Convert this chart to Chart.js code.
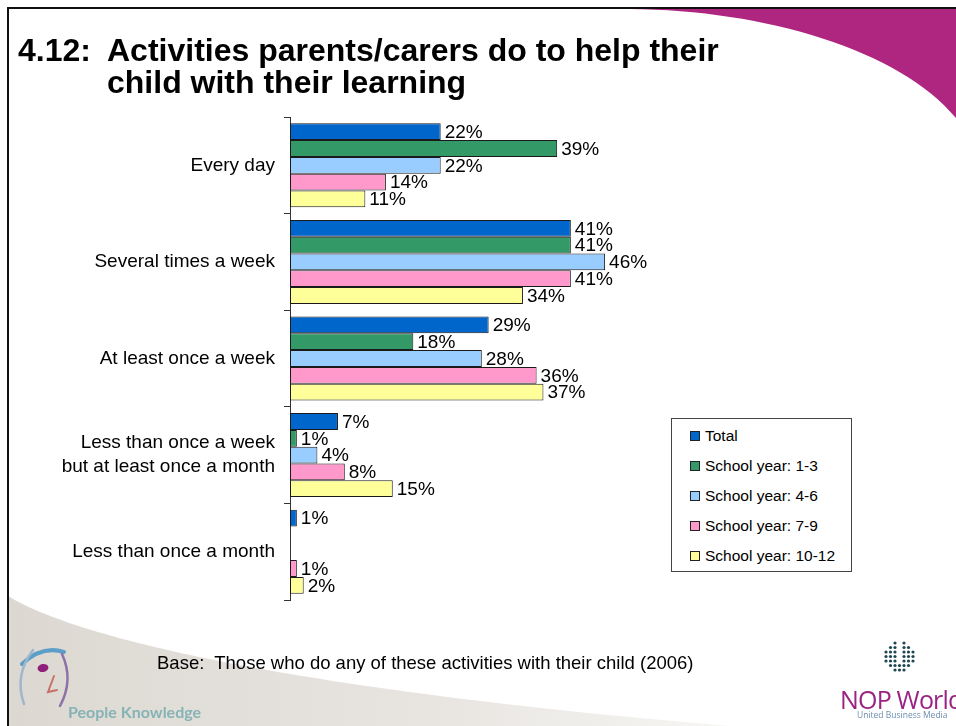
<!DOCTYPE html>
<html>
<head>
<meta charset="utf-8">
<script src="https://cdn.jsdelivr.net/npm/chart.js@4/dist/chart.umd.min.js"></script>
<style>
  html, body { margin: 0; padding: 0; background: #fff; }
  #slide { position: relative; width: 956px; height: 726px; overflow: hidden;
           font-family: "Liberation Sans", Arial, sans-serif; color: #000; }
  #chart { position: absolute; left: 0; top: 0; }
  .title { position: absolute; font-weight: bold; font-size: 32px; line-height: 32px; white-space: nowrap; }
  #footnote { position: absolute; left: 157px; top: 652px; font-size: 18.5px; line-height: 22px; white-space: nowrap; }
  #legend { position: absolute; left: 671px; top: 418px; width: 181px; height: 154px; box-sizing: border-box;
            border: 1px solid #444; background: #fff; }
  #legend .item { position: absolute; left: 18px; height: 20px; line-height: 20px; font-size: 15.5px; white-space: nowrap; }
  #legend .swatch { position: absolute; left: 0; top: 5px; width: 10px; height: 10px; box-sizing: border-box; border: 1px solid #222; }
  #legend .label { position: absolute; left: 15px; top: 0; }
  #pk { position: absolute; left: 68px; top: 702px; font-family: Lato, "Open Sans", sans-serif; font-weight: bold;
        font-size: 16px; line-height: 20px; color: #86b3b6; white-space: nowrap; }
  #nop { position: absolute; left: 840px; top: 684px; font-family: "Open Sans", Lato, sans-serif; font-size: 25px;
         line-height: 30px; color: #9a2383; white-space: nowrap; letter-spacing: -0.8px; }
  #ubm { position: absolute; left: 857px; top: 709px; font-family: "Open Sans", sans-serif; font-size: 8.5px;
         line-height: 12px; color: #6d8db0; white-space: nowrap; }
</style>
</head>
<body>
<div id="slide">
  <canvas id="chart" width="956" height="726"></canvas>
  <div class="title" style="left:18px; top:34px;">4.12:</div>
  <div class="title" style="left:107px; top:34px;">Activities parents/carers do to help their<br>child with their learning</div>
  <div id="legend"></div>
  <div id="footnote">Base:&nbsp; Those who do any of these activities with their child (2006)</div>
  <div id="pk">People Knowledge</div>
  <div id="nop">NOP World</div>
  <div id="ubm">United Business Media</div>
</div>
<script>
// Frequency categories (y axis)
const categories = [
  'Every day',
  'Several times a week',
  'At least once a week',
  ['Less than once a week', 'but at least once a month'],
  'Less than once a month'
];

// Series names
const seriesNames = ['Total', 'School year: 1-3', 'School year: 4-6', 'School year: 7-9', 'School year: 10-12'];

// Percentages per series (null = no response shown)
const total      = [22, 41, 29, 7, 1];
const year1to3   = [39, 41, 18, 1, null];
const year4to6   = [22, 46, 28, 4, null];
const year7to9   = [14, 41, 36, 8, 1];
const year10to12 = [11, 34, 37, 15, 2];

const seriesColors = ['#0066cc', '#339966', '#99ccff', '#ff99cc', '#ffff99'];
const seriesValues = [total, year1to3, year4to6, year7to9, year10to12];

const FONT = '"Liberation Sans", Arial, sans-serif';

// Slide artwork: frame, magenta swoosh, grey swoosh, logo marks
const slideArt = {
  id: 'slideArt',
  beforeDraw(chart) {
    const ctx = chart.ctx;
    ctx.save();
    ctx.fillStyle = '#ffffff';
    ctx.fillRect(0, 0, 956, 726);

    // magenta swoosh top-right
    ctx.fillStyle = '#ae2680';
    ctx.beginPath();
    ctx.moveTo(630, 9);
    ctx.bezierCurveTo(765, 10, 900, 50, 956, 118);
    ctx.lineTo(956, 9);
    ctx.closePath();
    ctx.fill();

    // grey swoosh bottom-left
    const g = ctx.createLinearGradient(0, 0, 730, 0);
    g.addColorStop(0, '#dcd8d1');
    g.addColorStop(0.6, '#e8e5e1');
    g.addColorStop(1, '#f7f6f4');
    ctx.fillStyle = g;
    ctx.beginPath();
    ctx.moveTo(8, 596);
    ctx.bezierCurveTo(80, 640, 300, 690, 730, 726);
    ctx.lineTo(8, 726);
    ctx.closePath();
    ctx.fill();

    // People Knowledge face mark
    ctx.lineCap = 'round';
    ctx.strokeStyle = '#5b9fc9';
    ctx.lineWidth = 4;
    ctx.beginPath();
    ctx.moveTo(22, 664);
    ctx.quadraticCurveTo(42, 645, 64, 652);
    ctx.stroke();
    ctx.strokeStyle = '#9fb6cc';
    ctx.lineWidth = 2.5;
    ctx.beginPath();
    ctx.moveTo(33, 650);
    ctx.quadraticCurveTo(14, 675, 24, 704);
    ctx.stroke();
    ctx.strokeStyle = '#8d72a8';
    ctx.lineWidth = 2.5;
    ctx.beginPath();
    ctx.moveTo(62, 654);
    ctx.quadraticCurveTo(74, 680, 60, 706);
    ctx.stroke();
    ctx.fillStyle = '#8e1f7a';
    ctx.beginPath();
    ctx.ellipse(43, 668, 5.5, 4, -0.2, 0, Math.PI * 2);
    ctx.fill();
    ctx.strokeStyle = '#c8706a';
    ctx.lineWidth = 2;
    ctx.beginPath();
    ctx.moveTo(54, 676);
    ctx.lineTo(48, 692);
    ctx.lineTo(57, 690);
    ctx.stroke();

    // NOP World dotted mark
    ctx.fillStyle = '#1f4652';
    const cx = 900, cy = 657;
    for (let dy = -14; dy <= 14; dy += 4.5) {
      for (let dx = -14; dx <= 14; dx += 4.5) {
        const inside = (dx * dx) / (15 * 15) + (dy * dy) / (15 * 15) <= 1;
        const slot = Math.abs(dx) < 4 && dy < 7;
        if (inside && !slot) {
          ctx.beginPath();
          ctx.arc(cx + dx, cy + dy, 1.6, 0, Math.PI * 2);
          ctx.fill();
        }
      }
    }

    // slide frame
    ctx.fillStyle = '#111';
    ctx.fillRect(7, 7, 949, 2);
    ctx.fillRect(7, 7, 2, 719);
    ctx.restore();
  }
};

// Percentage labels at the end of each bar
const valueLabels = {
  id: 'valueLabels',
  afterDatasetsDraw(chart) {
    const ctx = chart.ctx;
    ctx.save();
    ctx.font = '19px ' + FONT;
    ctx.fillStyle = '#000';
    ctx.textAlign = 'left';
    ctx.textBaseline = 'middle';
    chart.data.datasets.forEach((ds, i) => {
      const meta = chart.getDatasetMeta(i);
      meta.data.forEach((bar, j) => {
        const v = ds.data[j];
        if (v === null || v === undefined) return;
        ctx.fillText(v + '%', bar.x + 4, bar.y + 1);
      });
    });
    ctx.restore();
  }
};

const chart = new Chart(document.getElementById('chart'), {
  type: 'bar',
  data: {
    labels: categories,
    datasets: seriesNames.map((name, i) => ({
      label: name,
      data: seriesValues[i],
      backgroundColor: seriesColors[i],
      borderColor: '#1a1a1a',
      borderWidth: 1,
      borderSkipped: false,
      categoryPercentage: 0.87,
      barPercentage: 1.0
    }))
  },
  options: {
    indexAxis: 'y',
    responsive: false,
    animation: false,
    devicePixelRatio: 1,
    layout: { padding: { top: 117, bottom: 126, left: 0, right: 255 } },
    scales: {
      x: { display: false, min: 0, max: 60 },
      y: {
        position: 'left',
        afterFit(scale) { scale.width = 290; },
        grid: { drawOnChartArea: false, offset: true, tickLength: 6, color: '#333', lineWidth: 1 },
        border: { display: true, color: '#333', width: 1 },
        ticks: { color: '#000', padding: 9, autoSkip: false, font: { family: FONT, size: 19, lineHeight: 1.25 } }
      }
    },
    plugins: {
      legend: { display: false },
      tooltip: { enabled: false },
      title: { display: false }
    }
  },
  plugins: [slideArt, valueLabels]
});

// Legend box built from the chart's datasets
const legendEl = document.getElementById('legend');
chart.data.datasets.forEach((ds, i) => {
  const item = document.createElement('div');
  item.className = 'item';
  item.style.top = (7 + i * 30) + 'px';
  const sw = document.createElement('span');
  sw.className = 'swatch';
  sw.style.background = ds.backgroundColor;
  const lb = document.createElement('span');
  lb.className = 'label';
  lb.textContent = ds.label;
  item.appendChild(sw);
  item.appendChild(lb);
  legendEl.appendChild(item);
});
</script>
</body>
</html>
